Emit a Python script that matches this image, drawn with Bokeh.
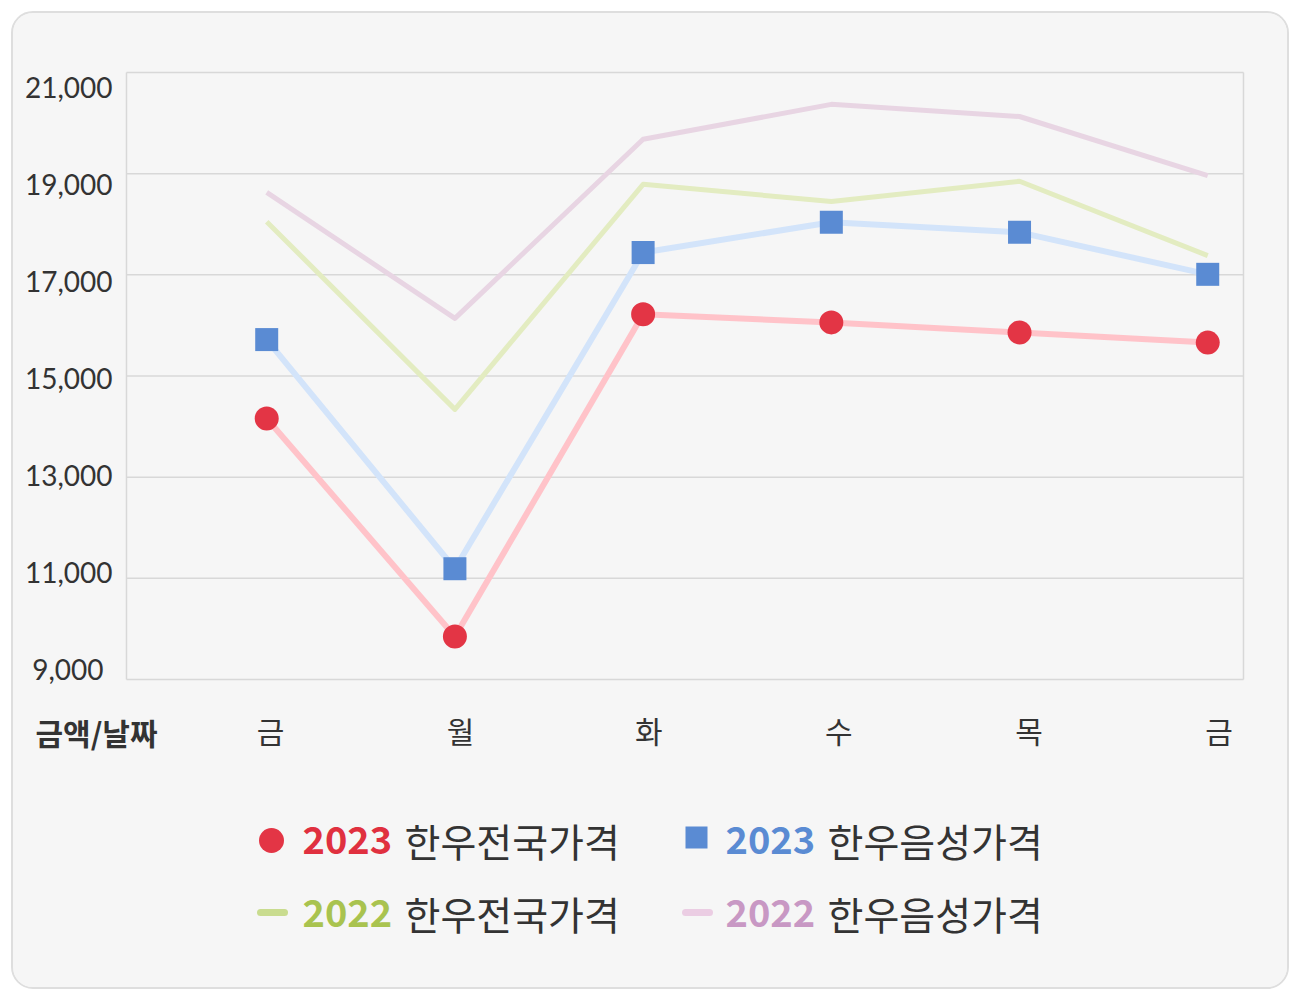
from bokeh.plotting import figure
from bokeh.models import Range1d, ColumnDataSource
from bokeh.layouts import column
from bokeh.core.properties import value
from bokeh.embed import file_html
from bokeh.resources import INLINE

# x categories (days) and tick labels
days = ["금", "월", "화", "수", "목", "금"]
x_idx = list(range(len(days)))
y_ticks = [9000, 11000, 13000, 15000, 17000, 19000, 21000]
y_tick_labels = ["9,000", "11,000", "13,000", "15,000", "17,000", "19,000", "21,000"]

# series values
nat_2023 = [14160, 9850, 16220, 16060, 15860, 15660]      # 2023 한우전국가격
eums_2023 = [15720, 11190, 17440, 18040, 17840, 17010]    # 2023 한우음성가격
nat_2022 = [18050, 14340, 18790, 18450, 18850, 17380]     # 2022 한우전국가격
eums_2022 = [18630, 16140, 19680, 20370, 20130, 18960]    # 2022 한우음성가격

series_names = ["2023", "2023", "2022", "2022"]
series_labels = ["한우전국가격", "한우음성가격", "한우전국가격", "한우음성가격"]

BG = "#f6f6f6"
KR = "Noto Sans CJK KR"
TXT = "#333333"
GRID = "#d8d8d8"

# plot box limits in data units; the canvas reaches a bit further so that
# the tick texts, caption and legend can be drawn as glyphs
X0, X1 = -0.745, 5.19
Y0, Y1 = 9000, 21000

# in the original the y labels sit on a slightly tighter spacing than the grid
y_label_anchor = [9198, 11115, 13035, 14955, 16874, 18794, 20713]
y_label_shift = [-23, -14, -14, -14, -14, -14, -14]
x_label_anchor = [0.02, 1.03, 2.03, 3.04, 4.05, 5.06]

p = figure(width=1274, height=974, output_backend="svg", toolbar_location=None,
           x_range=Range1d(-1.3454, 5.4238), y_range=Range1d(2911.1, 22166.4),
           x_axis_location=None, y_axis_location=None, min_border=0,
           background_fill_color=BG, border_fill_color=BG)
p.outline_line_color = None
p.grid.visible = False
# page-pixel coordinates for the legend block
p.extra_x_ranges = {"px": Range1d(13, 1287)}
p.extra_y_ranges = {"px": Range1d(987, 13)}

# grid lines and the plot box
p.segment(x0=[X0] * len(y_ticks), y0=y_ticks, x1=[X1] * len(y_ticks), y1=y_ticks,
          line_color=GRID, line_width=1.5)
p.segment(x0=[X0, X1], y0=[Y0, Y0], x1=[X0, X1], y1=[Y1, Y1], line_color=GRID, line_width=1.5)

# series: lines first, markers on top
p.line(x_idx, eums_2022, line_color="#e8d5e3", line_width=5, line_join="round")
p.line(x_idx, nat_2022, line_color="#e3ecc1", line_width=5, line_join="round")
p.line(x_idx, eums_2023, line_color="#d3e4fa", line_width=6, line_join="round")
p.line(x_idx, nat_2023, line_color="#ffc3c9", line_width=6, line_join="round")
p.scatter(x_idx, eums_2023, marker="square", size=23, fill_color="#5a8bd3", line_color=None)
p.scatter(x_idx, nat_2023, marker="circle", size=24, fill_color="#e33545", line_color=None)

# y tick labels
p.text(x=[X0] * len(y_ticks), y=y_label_anchor, text=y_tick_labels, x_offset=y_label_shift,
       text_align="right", text_baseline="middle", text_font=value("Lato"),
       text_font_size="28px", text_color=TXT)

# x tick labels and the caption
p.text(x=x_label_anchor, y=[Y0] * len(days), text=days, y_offset=50,
       text_align="center", text_baseline="middle", text_font=value(KR),
       text_font_size="30px", text_color=TXT)
p.text(x=[X0], y=[Y0], text=["금액/날짜"], x_offset=-91, y_offset=52,
       text_align="left", text_baseline="middle", text_font=value(KR),
       text_font_size="30px", text_font_style="bold", text_color=TXT)

# legend
mark_x = [271, 696, 272, 697]
row_y = [839, 839, 912, 912]
num_colors = ["#e0303f", "#5a8bd3", "#a9c34f", "#c898c4"]

p.scatter([mark_x[0]], [row_y[0] + 1], marker="circle", size=25, fill_color="#e33545",
          line_color=None, x_range_name="px", y_range_name="px")
p.scatter([mark_x[1]], [row_y[1] - 2], marker="square", size=22, fill_color="#5a8bd3",
          line_color=None, x_range_name="px", y_range_name="px")
p.segment(x0=[mark_x[2] - 12, mark_x[3] - 12], y0=row_y[2:], x1=[mark_x[2] + 12, mark_x[3] + 12],
          y1=row_y[2:], line_color=["#c9dc8f", "#ebcde3"], line_width=7, line_cap="round",
          x_range_name="px", y_range_name="px")

src = ColumnDataSource(dict(
    nx=[302, 725, 302, 725], tx=[404, 827, 404, 827], y=row_y,
    num=series_names, lab=series_labels, c=num_colors))
p.text(x="nx", y="y", text="num", source=src, text_color="c", text_font=value(KR),
       text_font_size="38px", text_font_style="bold", text_baseline="middle",
       x_range_name="px", y_range_name="px")
p.text(x="tx", y="y", text="lab", source=src, text_color=TXT, text_font=value(KR),
       text_font_size="39px", text_baseline="middle", x_range_name="px", y_range_name="px")

layout = column(p, styles={"border": "2px solid #dedede", "border-radius": "22px",
                           "background-color": BG, "overflow": "hidden", "margin": "11px"})

open("out.html", "w").write(file_html(layout, INLINE))
